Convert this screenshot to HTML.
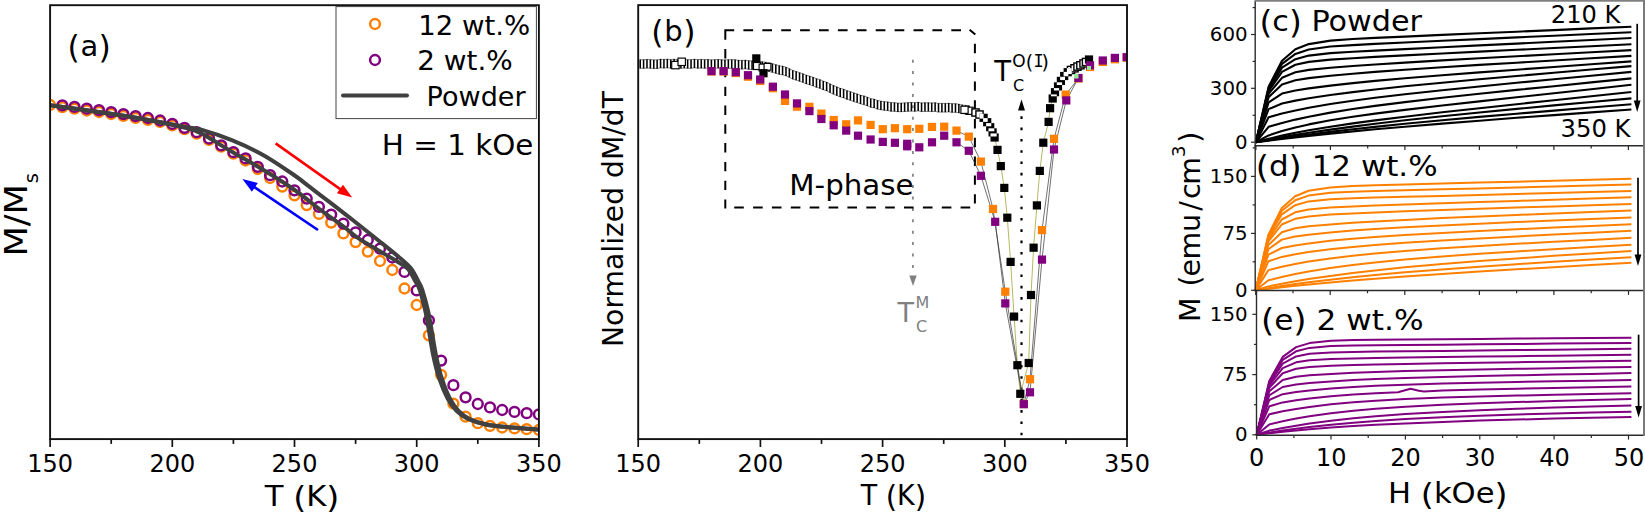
<!DOCTYPE html>
<html><head><meta charset="utf-8"><title>Figure</title>
<style>
html,body{margin:0;padding:0;background:#fff;}
svg{display:block;font-family:"DejaVu Sans", "Liberation Sans", sans-serif;}
</style></head><body>
<svg width="1645" height="513" viewBox="0 0 1645 513">
<rect width="1645" height="513" fill="#fff"/>
<g id="panel-a">
<clipPath id="clipA"><rect x="50.1" y="5.2" width="488.79999999999995" height="433.90000000000003"/></clipPath>
<g clip-path="url(#clipA)">
<circle cx="50.1" cy="105" r="4.9" fill="none" stroke="#ff8000" stroke-width="2.5"/>
<circle cx="62.3" cy="107.1" r="4.9" fill="none" stroke="#ff8000" stroke-width="2.5"/>
<circle cx="74.5" cy="108.7" r="4.9" fill="none" stroke="#ff8000" stroke-width="2.5"/>
<circle cx="86.8" cy="110.5" r="4.9" fill="none" stroke="#ff8000" stroke-width="2.5"/>
<circle cx="99.0" cy="112.0" r="4.9" fill="none" stroke="#ff8000" stroke-width="2.5"/>
<circle cx="111.2" cy="114.0" r="4.9" fill="none" stroke="#ff8000" stroke-width="2.5"/>
<circle cx="123.4" cy="115.9" r="4.9" fill="none" stroke="#ff8000" stroke-width="2.5"/>
<circle cx="135.6" cy="117.9" r="4.9" fill="none" stroke="#ff8000" stroke-width="2.5"/>
<circle cx="147.9" cy="119.8" r="4.9" fill="none" stroke="#ff8000" stroke-width="2.5"/>
<circle cx="160.1" cy="121.9" r="4.9" fill="none" stroke="#ff8000" stroke-width="2.5"/>
<circle cx="172.3" cy="125.3" r="4.9" fill="none" stroke="#ff8000" stroke-width="2.5"/>
<circle cx="184.5" cy="129.2" r="4.9" fill="none" stroke="#ff8000" stroke-width="2.5"/>
<circle cx="196.7" cy="133.6" r="4.9" fill="none" stroke="#ff8000" stroke-width="2.5"/>
<circle cx="209.0" cy="139.9" r="4.9" fill="none" stroke="#ff8000" stroke-width="2.5"/>
<circle cx="221.2" cy="146.7" r="4.9" fill="none" stroke="#ff8000" stroke-width="2.5"/>
<circle cx="233.4" cy="153.6" r="4.9" fill="none" stroke="#ff8000" stroke-width="2.5"/>
<circle cx="245.6" cy="160.5" r="4.9" fill="none" stroke="#ff8000" stroke-width="2.5"/>
<circle cx="257.8" cy="169" r="4.9" fill="none" stroke="#ff8000" stroke-width="2.5"/>
<circle cx="270.1" cy="178" r="4.9" fill="none" stroke="#ff8000" stroke-width="2.5"/>
<circle cx="282.3" cy="186.6" r="4.9" fill="none" stroke="#ff8000" stroke-width="2.5"/>
<circle cx="294.5" cy="195.3" r="4.9" fill="none" stroke="#ff8000" stroke-width="2.5"/>
<circle cx="306.7" cy="205.1" r="4.9" fill="none" stroke="#ff8000" stroke-width="2.5"/>
<circle cx="318.9" cy="213.9" r="4.9" fill="none" stroke="#ff8000" stroke-width="2.5"/>
<circle cx="331.2" cy="222.6" r="4.9" fill="none" stroke="#ff8000" stroke-width="2.5"/>
<circle cx="343.4" cy="233.4" r="4.9" fill="none" stroke="#ff8000" stroke-width="2.5"/>
<circle cx="355.6" cy="242.1" r="4.9" fill="none" stroke="#ff8000" stroke-width="2.5"/>
<circle cx="367.8" cy="251.6" r="4.9" fill="none" stroke="#ff8000" stroke-width="2.5"/>
<circle cx="380.0" cy="261" r="4.9" fill="none" stroke="#ff8000" stroke-width="2.5"/>
<circle cx="392.3" cy="270" r="4.9" fill="none" stroke="#ff8000" stroke-width="2.5"/>
<circle cx="404.5" cy="288.5" r="4.9" fill="none" stroke="#ff8000" stroke-width="2.5"/>
<circle cx="416.7" cy="305" r="4.9" fill="none" stroke="#ff8000" stroke-width="2.5"/>
<circle cx="428.9" cy="335.3" r="4.9" fill="none" stroke="#ff8000" stroke-width="2.5"/>
<circle cx="441.1" cy="374.8" r="4.9" fill="none" stroke="#ff8000" stroke-width="2.5"/>
<circle cx="453.4" cy="403.7" r="4.9" fill="none" stroke="#ff8000" stroke-width="2.5"/>
<circle cx="465.6" cy="416.7" r="4.9" fill="none" stroke="#ff8000" stroke-width="2.5"/>
<circle cx="477.8" cy="423.2" r="4.9" fill="none" stroke="#ff8000" stroke-width="2.5"/>
<circle cx="490.0" cy="425.9" r="4.9" fill="none" stroke="#ff8000" stroke-width="2.5"/>
<circle cx="502.2" cy="427.5" r="4.9" fill="none" stroke="#ff8000" stroke-width="2.5"/>
<circle cx="514.5" cy="428.4" r="4.9" fill="none" stroke="#ff8000" stroke-width="2.5"/>
<circle cx="526.7" cy="429.2" r="4.9" fill="none" stroke="#ff8000" stroke-width="2.5"/>
<circle cx="538.9" cy="430" r="4.9" fill="none" stroke="#ff8000" stroke-width="2.5"/>
<circle cx="62.3" cy="105.3" r="4.9" fill="none" stroke="#800080" stroke-width="2.5"/>
<circle cx="74.5" cy="106.9" r="4.9" fill="none" stroke="#800080" stroke-width="2.5"/>
<circle cx="86.8" cy="108.7" r="4.9" fill="none" stroke="#800080" stroke-width="2.5"/>
<circle cx="99.0" cy="110.2" r="4.9" fill="none" stroke="#800080" stroke-width="2.5"/>
<circle cx="111.2" cy="112.2" r="4.9" fill="none" stroke="#800080" stroke-width="2.5"/>
<circle cx="123.4" cy="114.1" r="4.9" fill="none" stroke="#800080" stroke-width="2.5"/>
<circle cx="135.6" cy="116.1" r="4.9" fill="none" stroke="#800080" stroke-width="2.5"/>
<circle cx="147.9" cy="118" r="4.9" fill="none" stroke="#800080" stroke-width="2.5"/>
<circle cx="160.1" cy="120.5" r="4.9" fill="none" stroke="#800080" stroke-width="2.5"/>
<circle cx="172.3" cy="123.9" r="4.9" fill="none" stroke="#800080" stroke-width="2.5"/>
<circle cx="184.5" cy="127.8" r="4.9" fill="none" stroke="#800080" stroke-width="2.5"/>
<circle cx="196.7" cy="132.2" r="4.9" fill="none" stroke="#800080" stroke-width="2.5"/>
<circle cx="209.0" cy="138.5" r="4.9" fill="none" stroke="#800080" stroke-width="2.5"/>
<circle cx="221.2" cy="145.3" r="4.9" fill="none" stroke="#800080" stroke-width="2.5"/>
<circle cx="233.4" cy="152.2" r="4.9" fill="none" stroke="#800080" stroke-width="2.5"/>
<circle cx="245.6" cy="158.4" r="4.9" fill="none" stroke="#800080" stroke-width="2.5"/>
<circle cx="257.8" cy="166.8" r="4.9" fill="none" stroke="#800080" stroke-width="2.5"/>
<circle cx="270.1" cy="175.2" r="4.9" fill="none" stroke="#800080" stroke-width="2.5"/>
<circle cx="282.3" cy="181.5" r="4.9" fill="none" stroke="#800080" stroke-width="2.5"/>
<circle cx="294.5" cy="190.3" r="4.9" fill="none" stroke="#800080" stroke-width="2.5"/>
<circle cx="306.7" cy="198.6" r="4.9" fill="none" stroke="#800080" stroke-width="2.5"/>
<circle cx="318.9" cy="206.8" r="4.9" fill="none" stroke="#800080" stroke-width="2.5"/>
<circle cx="331.2" cy="214.6" r="4.9" fill="none" stroke="#800080" stroke-width="2.5"/>
<circle cx="343.4" cy="223.6" r="4.9" fill="none" stroke="#800080" stroke-width="2.5"/>
<circle cx="355.6" cy="232.4" r="4.9" fill="none" stroke="#800080" stroke-width="2.5"/>
<circle cx="367.8" cy="240" r="4.9" fill="none" stroke="#800080" stroke-width="2.5"/>
<circle cx="380.0" cy="248.7" r="4.9" fill="none" stroke="#800080" stroke-width="2.5"/>
<circle cx="392.3" cy="257.5" r="4.9" fill="none" stroke="#800080" stroke-width="2.5"/>
<circle cx="404.5" cy="271.9" r="4.9" fill="none" stroke="#800080" stroke-width="2.5"/>
<circle cx="416.7" cy="290.4" r="4.9" fill="none" stroke="#800080" stroke-width="2.5"/>
<circle cx="428.9" cy="320.3" r="4.9" fill="none" stroke="#800080" stroke-width="2.5"/>
<circle cx="441.1" cy="360.6" r="4.9" fill="none" stroke="#800080" stroke-width="2.5"/>
<circle cx="453.4" cy="385.2" r="4.9" fill="none" stroke="#800080" stroke-width="2.5"/>
<circle cx="465.6" cy="397.3" r="4.9" fill="none" stroke="#800080" stroke-width="2.5"/>
<circle cx="477.8" cy="404" r="4.9" fill="none" stroke="#800080" stroke-width="2.5"/>
<circle cx="490.0" cy="407.4" r="4.9" fill="none" stroke="#800080" stroke-width="2.5"/>
<circle cx="502.2" cy="410" r="4.9" fill="none" stroke="#800080" stroke-width="2.5"/>
<circle cx="514.5" cy="411.9" r="4.9" fill="none" stroke="#800080" stroke-width="2.5"/>
<circle cx="526.7" cy="413.2" r="4.9" fill="none" stroke="#800080" stroke-width="2.5"/>
<circle cx="538.9" cy="414.4" r="4.9" fill="none" stroke="#800080" stroke-width="2.5"/>
<path d="M50,105.3 C57.5,106.3 80.4,109.4 95,111.5 C109.6,113.6 122.7,115.5 137.5,118 C152.3,120.5 173.4,124.6 184,126.6 C194.6,128.5 193.1,127.4 201.2,129.7 C209.3,132.0 222.0,136.2 232.4,140.4 C242.8,144.7 253.1,149.3 263.5,155.2 C273.9,161.0 286.9,170.2 294.7,175.5 C302.4,180.8 305.8,184.0 310,187.2 C314.2,190.4 314.2,190.4 320,194.8 C325.8,199.2 338.3,208.8 344.8,213.8 C351.3,218.8 353.4,220.6 359,225 C364.6,229.4 372.0,235.3 378.5,240.5 C385.0,245.7 392.6,251.7 398,256.3 C403.4,260.9 407.3,263.8 410.7,268 C414.1,272.2 416.6,277.9 418.5,281.6 C420.4,285.3 420.8,284.9 422.4,290 C424.0,295.1 426.8,305.2 428.3,311.9 C429.8,318.6 430.3,322.8 431.6,330 C432.9,337.2 434.3,347.2 436.0,355.3 C437.7,363.4 439.6,371.6 441.9,378.7 C444.2,385.8 446.9,392.8 449.7,398.2 C452.5,403.6 455.2,407.5 458.5,410.9 C461.8,414.3 464.5,416.4 469.2,418.7 C473.9,421.0 479.6,423.0 486.7,424.5 C493.8,426.0 503.4,426.7 512,427.5 C520.6,428.3 534.0,429.1 538.4,429.4" fill="none" stroke="#404040" stroke-width="4" stroke-linejoin="round"/>
<path d="M50,105.3 C57.5,106.3 80.4,109.4 95,111.5 C109.6,113.6 122.7,115.3 137.5,118 C152.3,120.7 173.4,125.0 184,127.6 C194.6,130.2 193.1,129.3 201.2,133.4 C209.3,137.5 222.0,146.0 232.4,152.1 C242.8,158.2 253.1,163.7 263.5,170 C273.9,176.3 285.3,183.4 294.7,190 C304.1,196.6 311.6,203.2 320,209.5 C328.4,215.8 338.3,222.6 344.8,227.5 C351.3,232.4 353.4,234.9 359,238.7 C364.6,242.5 372.0,246.5 378.5,250.4 C385.0,254.3 393.1,258.9 398,262 C402.9,265.1 405.1,265.7 408.0,269 C410.9,272.3 413.5,278.1 415.5,281.6 C417.5,285.1 418.1,284.9 419.8,290 C421.5,295.1 424.0,305.2 425.5,311.9 C427.0,318.6 427.5,322.8 428.8,330 C430.1,337.2 431.4,347.2 433.2,355.3 C434.9,363.4 436.9,371.6 439.3,378.7 C441.7,385.8 444.6,392.8 447.5,398.2 C450.4,403.6 453.2,407.5 456.5,410.9 C459.8,414.3 462.7,416.4 467.5,418.7 C472.3,421.0 478.1,423.0 485.5,424.5 C492.9,426.0 503.2,426.7 512,427.5 C520.8,428.3 534.0,429.1 538.4,429.4" fill="none" stroke="#404040" stroke-width="4" stroke-linejoin="round"/>
</g>
<line x1="275.6" y1="143.4" x2="341.6" y2="190.1" stroke="#ff0000" stroke-width="2.6"/>
<polygon points="352.2,197.6 336.9,193.2 343.0,184.7" fill="#ff0000"/>
<line x1="318.0" y1="230.0" x2="253.2" y2="186.3" stroke="#0000ff" stroke-width="2.6"/>
<polygon points="242.4,179.0 257.8,183.0 251.9,191.7" fill="#0000ff"/>
<rect x="50.1" y="5.2" width="488.79999999999995" height="433.90000000000003" fill="none" stroke="#111" stroke-width="1.9"/>
<line x1="50.1" y1="439.1" x2="50.1" y2="447.0" stroke="#111" stroke-width="1.7"/>
<line x1="111.2" y1="439.1" x2="111.2" y2="443.90000000000003" stroke="#111" stroke-width="1.7"/>
<line x1="172.3" y1="439.1" x2="172.3" y2="447.0" stroke="#111" stroke-width="1.7"/>
<line x1="233.4" y1="439.1" x2="233.4" y2="443.90000000000003" stroke="#111" stroke-width="1.7"/>
<line x1="294.5" y1="439.1" x2="294.5" y2="447.0" stroke="#111" stroke-width="1.7"/>
<line x1="355.6" y1="439.1" x2="355.6" y2="443.90000000000003" stroke="#111" stroke-width="1.7"/>
<line x1="416.7" y1="439.1" x2="416.7" y2="447.0" stroke="#111" stroke-width="1.7"/>
<line x1="477.8" y1="439.1" x2="477.8" y2="443.90000000000003" stroke="#111" stroke-width="1.7"/>
<line x1="538.9" y1="439.1" x2="538.9" y2="447.0" stroke="#111" stroke-width="1.7"/>
<text x="50.1" y="471.8" font-size="24" text-anchor="middle" fill="#000" >150</text>
<text x="172.3" y="471.8" font-size="24" text-anchor="middle" fill="#000" >200</text>
<text x="294.5" y="471.8" font-size="24" text-anchor="middle" fill="#000" >250</text>
<text x="416.7" y="471.8" font-size="24" text-anchor="middle" fill="#000" >300</text>
<text x="538.9" y="471.8" font-size="24" text-anchor="middle" fill="#000" >350</text>
<text x="264.7" y="506.3" font-size="28" text-anchor="start" fill="#000" textLength="74.7" lengthAdjust="spacingAndGlyphs">T <tspan font-size="30.5" dy="1.82">(</tspan><tspan dy="-1.82">K</tspan><tspan font-size="30.5" dy="1.82">)</tspan></text>
<text transform="translate(26.5,256.6) rotate(-90)" font-size="31.5" fill="#000" textLength="72.5" lengthAdjust="spacingAndGlyphs">M/M</text>
<text transform="translate(37.8,183.2) rotate(-90)" font-size="19.5" fill="#000">s</text>
<text x="67.6" y="58.2" font-size="31.5" text-anchor="start" fill="#000" >(</text>
<text x="80.4" y="56.3" font-size="29" text-anchor="start" fill="#000" >a</text>
<text x="98.55" y="58.2" font-size="31.5" text-anchor="start" fill="#000" >)</text>
<rect x="336" y="6.6" width="200.4" height="112" fill="#fff" stroke="#444" stroke-width="1"/>
<circle cx="375" cy="24" r="4.9" fill="none" stroke="#ff8000" stroke-width="2.5"/>
<circle cx="375" cy="60" r="4.9" fill="none" stroke="#800080" stroke-width="2.5"/>
<line x1="343" y1="95.6" x2="407" y2="95.6" stroke="#404040" stroke-width="4" stroke-linecap="round"/>
<text x="418.2" y="34.8" font-size="27" text-anchor="start" fill="#000" textLength="112" lengthAdjust="spacingAndGlyphs" >12 wt.%</text>
<text x="417.2" y="69.8" font-size="27" text-anchor="start" fill="#000" textLength="95.5" lengthAdjust="spacingAndGlyphs" >2 wt.%</text>
<text x="426.6" y="105.9" font-size="27" text-anchor="start" fill="#000" textLength="99" lengthAdjust="spacingAndGlyphs" >Powder</text>
<text x="381.8" y="154.7" font-size="28" text-anchor="start" fill="#000" textLength="151.6" lengthAdjust="spacingAndGlyphs" >H = 1 kOe</text>
</g>
<g id="panel-b">
<clipPath id="clipB"><rect x="638.2" y="5.1" width="488.79999999999995" height="434.0"/></clipPath>
<line x1="912.9" y1="59.7" x2="912.9" y2="276" stroke="#808080" stroke-width="1.7" stroke-dasharray="3 8.4"/>
<polygon points="913,286 909.3,275.5 916.7,275.5" fill="#808080"/>
<line x1="1021.5" y1="105" x2="1021.5" y2="436" stroke="#000" stroke-width="2.2" stroke-dasharray="2.6 8.7"/>
<polygon points="1021.5,99.5 1018,110.5 1025,110.5" fill="#000"/>
<path d="M724.3,30.3L734.2,30.3 M743.4,30.3L753.1,30.3 M762.3,30.3L772.0,30.3 M781.2,30.3L790.9,30.3 M800.1,30.3L809.8,30.3 M819.0,30.3L828.7,30.3 M837.9,30.3L847.6,30.3 M856.8,30.3L866.5,30.3 M875.7,30.3L885.4,30.3 M894.6,30.3L904.3,30.3 M913.5,30.3L923.2,30.3 M932.4,30.3L942.1,30.3 M951.3,30.3L961.0,30.3 M969.6,29.8L975.3,34.6 M974.9,43.8L974.9,53.2 M974.9,62.6L974.9,72.0 M974.9,81.4L974.9,90.8 M974.9,100.2L974.9,109.6 M974.9,119.0L974.9,128.4 M974.9,137.8L974.9,147.2 M974.9,156.6L974.9,166.0 M974.9,175.4L974.9,184.8 M974.9,194.2L974.9,203.6 M734.2,207.6L743.8,207.6 M753.1,207.6L762.7,207.6 M771.9,207.6L781.5,207.6 M790.8,207.6L800.4,207.6 M809.7,207.6L819.3,207.6 M828.6,207.6L838.2,207.6 M847.4,207.6L857.0,207.6 M866.3,207.6L875.9,207.6 M885.2,207.6L894.8,207.6 M904.0,207.6L913.6,207.6 M922.9,207.6L932.5,207.6 M941.8,207.6L951.4,207.6 M960.6,207.6L970.2,207.6 M725.3,30.3L725.3,39.7 M725.3,49.1L725.3,58.5 M725.3,67.9L725.3,77.3 M725.3,86.7L725.3,96.1 M725.3,105.5L725.3,114.9 M725.3,124.3L725.3,133.7 M725.3,143.1L725.3,152.5 M725.3,161.9L725.3,171.3 M725.3,180.7L725.3,190.1 M725.3,199.5L725.3,208.5" fill="none" stroke="#000" stroke-width="2"/>
<g clip-path="url(#clipB)">
<polyline points="994.6,137.5 997.5,149.9 1000.8,166.1 1004.3,187.9 1007.3,217.7 1010.6,261.9 1014.1,316.6 1017.4,365.2 1020.3,393.8 1028.7,363.0 1031.0,295.0 1033.6,247.7 1036.9,205.4 1039.8,170.9 1043.3,142.7 1048.6,121.9 1050.1,108.2 1052.7,98.5 1055.0,92.2 1058.0,86.4 1060.9,80.9 1064.2,76.0 1067.7,72.2" fill="none" stroke="#b0ae50" stroke-width="0.9"/>
<polyline points="956.5,130.6 968.8,136.6 980.9,161.6 993.0,209.0 1005.3,291.7 1023.8,404.0 1030.0,379.2 1042.0,230.1 1054.0,138.8 1065.7,94.6 1078.4,78.5" fill="none" stroke="#333" stroke-width="0.7"/>
<polyline points="956.5,142.3 968.8,150.8 980.9,175.8 995.2,221.8 1005.3,303.4 1023.8,404.2 1030.0,392.3 1042.0,259.6 1054.0,149.5 1066.3,100.4 1078.4,78.0" fill="none" stroke="#333" stroke-width="0.7"/>
<polyline points="640.2,59.6 643.6,59.8 647.0,59.4 650.4,59.6 653.8,59.9 657.1,59.9 660.5,59.3 663.9,59.4 667.3,59.2 670.7,59.6 674.1,59.2 677.5,59.6 680.9,59.7 684.3,59.4 687.7,59.7 691.0,59.7 694.4,59.2 697.8,59.6 701.2,59.4 704.6,59.6 708.0,59.5 711.4,59.9 714.8,59.7 718.2,59.5 721.6,59.8 724.9,60.0 728.3,59.7 731.7,59.7 735.1,59.8 738.5,60.3 741.9,60.4 745.3,60.2 748.7,60.7 752.1,61.0 755.5,60.9 758.8,61.1 762.2,61.8 765.6,62.2 769.0,62.9 772.4,63.7 775.8,64.7 779.2,65.6 782.6,66.3 786.0,67.2 789.4,68.7 792.7,70.4 796.1,71.5 799.5,72.6 802.9,73.8 806.3,75.2 809.7,76.1 813.1,77.3 816.5,78.7 819.9,79.6 823.3,81.1 826.6,82.3 830.0,84.0 833.4,85.5 836.8,86.9 840.2,88.3 843.6,89.2 847.0,90.7 850.4,91.6 853.8,93.0 857.2,94.0 860.5,95.3 863.9,96.0 867.3,97.2 870.7,98.7 874.1,99.1 877.5,100.5 880.9,101.1 884.3,101.6 887.7,102.0 891.1,102.6 894.4,102.7 897.8,103.1 901.2,103.1 904.6,102.9 908.0,102.6 911.4,102.5 914.8,102.7 918.2,102.3 921.6,103.0 925.0,102.8 928.3,102.8 931.7,103.0 935.1,102.8 938.5,103.4 941.9,103.4 945.3,103.4 948.7,103.3 952.1,103.7 955.5,103.7 958.9,104.2 962.2,105.0 965.6,105.4 969.0,105.8" fill="none" stroke="#8a8a8a" stroke-width="1"/>
<polyline points="640.2,68.2 643.6,68.4 647.0,68.0 650.4,68.2 653.8,68.5 657.1,68.5 660.5,67.9 663.9,68.0 667.3,67.8 670.7,68.2 674.1,67.8 677.5,68.2 680.9,68.3 684.3,68.0 687.7,68.3 691.0,68.3 694.4,67.8 697.8,68.2 701.2,68.0 704.6,68.2 708.0,68.1 711.4,68.5 714.8,68.3 718.2,68.1 721.6,68.4 724.9,68.6 728.3,68.3 731.7,68.3 735.1,68.4 738.5,68.9 741.9,69.0 745.3,68.8 748.7,69.3 752.1,69.6 755.5,69.5 758.8,69.7 762.2,70.4 765.6,70.8 769.0,71.5 772.4,72.3 775.8,73.3 779.2,74.2 782.6,74.9 786.0,75.8 789.4,77.3 792.7,79.0 796.1,80.1 799.5,81.2 802.9,82.4 806.3,83.8 809.7,84.7 813.1,85.9 816.5,87.3 819.9,88.2 823.3,89.7 826.6,90.9 830.0,92.6 833.4,94.1 836.8,95.5 840.2,96.9 843.6,97.8 847.0,99.3 850.4,100.2 853.8,101.6 857.2,102.6 860.5,103.9 863.9,104.6 867.3,105.8 870.7,107.3 874.1,107.7 877.5,109.1 880.9,109.7 884.3,110.2 887.7,110.6 891.1,111.2 894.4,111.3 897.8,111.7 901.2,111.7 904.6,111.5 908.0,111.2 911.4,111.1 914.8,111.3 918.2,110.9 921.6,111.6 925.0,111.4 928.3,111.4 931.7,111.6 935.1,111.4 938.5,112.0 941.9,112.0 945.3,112.0 948.7,111.9 952.1,112.3 955.5,112.3 958.9,112.8 962.2,113.6 965.6,114.0 969.0,114.4" fill="none" stroke="#8a8a8a" stroke-width="1"/>
<path d="M640.20,59.4V68.4 M643.59,59.6V68.6 M646.98,59.2V68.2 M650.37,59.4V68.4 M653.76,59.7V68.7 M657.15,59.7V68.7 M660.54,59.1V68.1 M663.93,59.2V68.2 M667.32,59.0V68.0 M670.71,59.4V68.4 M674.10,59.0V68.0 M677.49,59.4V68.4 M680.88,59.5V68.5 M684.27,59.2V68.2 M687.66,59.5V68.5 M691.05,59.5V68.5 M694.44,59.0V68.0 M697.83,59.4V68.4 M701.22,59.2V68.2 M704.61,59.4V68.4 M708.00,59.3V68.3 M711.39,59.7V68.7 M714.78,59.5V68.5 M718.17,59.3V68.3 M721.56,59.6V68.6 M724.95,59.8V68.8 M728.34,59.5V68.5 M731.73,59.5V68.5 M735.12,59.6V68.6 M738.51,60.1V69.1 M741.90,60.2V69.2 M745.29,60.0V69.0 M748.68,60.5V69.5 M752.07,60.8V69.8 M755.46,60.7V69.7 M758.85,60.9V69.9 M762.24,61.6V70.6 M765.63,62.0V71.0 M769.02,62.7V71.7 M772.41,63.5V72.5 M775.80,64.5V73.5 M779.19,65.4V74.4 M782.58,66.1V75.1 M785.97,67.0V76.0 M789.36,68.5V77.5 M792.75,70.2V79.2 M796.14,71.3V80.3 M799.53,72.4V81.4 M802.92,73.6V82.6 M806.31,75.0V84.0 M809.70,75.9V84.9 M813.09,77.1V86.1 M816.48,78.5V87.5 M819.87,79.4V88.4 M823.26,80.9V89.9 M826.65,82.1V91.1 M830.04,83.8V92.8 M833.43,85.3V94.3 M836.82,86.7V95.7 M840.21,88.1V97.1 M843.60,89.0V98.0 M846.99,90.5V99.5 M850.38,91.4V100.4 M853.77,92.8V101.8 M857.16,93.8V102.8 M860.55,95.1V104.1 M863.94,95.8V104.8 M867.33,97.0V106.0 M870.72,98.5V107.5 M874.11,98.9V107.9 M877.50,100.3V109.3 M880.89,100.9V109.9 M884.28,101.4V110.4 M887.67,101.8V110.8 M891.06,102.4V111.4 M894.45,102.5V111.5 M897.84,102.9V111.9 M901.23,102.9V111.9 M904.62,102.7V111.7 M908.01,102.4V111.4 M911.40,102.3V111.3 M914.79,102.5V111.5 M918.18,102.1V111.1 M921.57,102.8V111.8 M924.96,102.6V111.6 M928.35,102.6V111.6 M931.74,102.8V111.8 M935.13,102.6V111.6 M938.52,103.2V112.2 M941.91,103.2V112.2 M945.30,103.2V112.2 M948.69,103.1V112.1 M952.08,103.5V112.5 M955.47,103.5V112.5 M958.86,104.0V113.0 M962.25,104.8V113.8 M965.64,105.2V114.2 M969.03,105.6V114.6" fill="none" stroke="#000" stroke-width="1.55"/>
<rect x="671.7" y="61.4" width="7.4" height="7.4" fill="#fff" stroke="#000" stroke-width="1.15"/>
<rect x="678.0" y="58.1" width="7.4" height="7.4" fill="#fff" stroke="#000" stroke-width="1.15"/>
<rect x="753.5" y="62.5" width="7.0" height="7.0" fill="#fff" stroke="#000" stroke-width="1.15"/>
<rect x="759.1" y="64.1" width="6.8" height="6.8" fill="#fff" stroke="#000" stroke-width="1.15"/>
<rect x="764.1" y="63.4" width="6.8" height="6.8" fill="#fff" stroke="#000" stroke-width="1.15"/>
<rect x="965.9" y="107.2" width="7.2" height="7.2" fill="#fff" stroke="#000" stroke-width="1.15"/>
<rect x="960.9" y="106.2" width="7.2" height="7.2" fill="#fff" stroke="#000" stroke-width="1.15"/>
<rect x="971.9" y="108.9" width="7.2" height="7.2" fill="#fff" stroke="#000" stroke-width="1.4"/>
<rect x="975.9" y="110.9" width="7.2" height="7.2" fill="#fff" stroke="#000" stroke-width="1.4"/>
<rect x="1067.4" y="66.4" width="7.2" height="7.2" fill="#fff" stroke="#000" stroke-width="1.4"/>
<rect x="1070.9" y="64.7" width="7.2" height="7.2" fill="#fff" stroke="#000" stroke-width="1.4"/>
<rect x="1073.9" y="63.0" width="7.2" height="7.2" fill="#fff" stroke="#000" stroke-width="1.4"/>
<rect x="1076.8" y="61.7" width="7.2" height="7.2" fill="#fff" stroke="#000" stroke-width="1.4"/>
<rect x="1079.9" y="59.9" width="7.2" height="7.2" fill="#fff" stroke="#000" stroke-width="1.4"/>
<rect x="1082.4" y="58.4" width="7.2" height="7.2" fill="#fff" stroke="#000" stroke-width="1.4"/>
<rect x="752.2" y="54.3" width="8.2" height="8.2" fill="#000"/>
<rect x="759.4" y="69.1" width="8.2" height="8.2" fill="#000"/>
<rect x="979.5" y="113.7" width="8.2" height="8.2" fill="#000"/>
<rect x="983.1" y="118.1" width="8.2" height="8.2" fill="#000"/>
<rect x="986.1" y="123.1" width="8.2" height="8.2" fill="#000"/>
<rect x="988.5" y="128.3" width="8.2" height="8.2" fill="#000"/>
<rect x="990.5" y="133.4" width="8.2" height="8.2" fill="#000"/>
<rect x="993.4" y="145.8" width="8.2" height="8.2" fill="#000"/>
<rect x="996.7" y="162.0" width="8.2" height="8.2" fill="#000"/>
<rect x="1000.2" y="183.8" width="8.2" height="8.2" fill="#000"/>
<rect x="1003.2" y="213.6" width="8.2" height="8.2" fill="#000"/>
<rect x="1006.5" y="257.8" width="8.2" height="8.2" fill="#000"/>
<rect x="1010.0" y="312.5" width="8.2" height="8.2" fill="#000"/>
<rect x="1013.3" y="361.1" width="8.2" height="8.2" fill="#000"/>
<rect x="1016.2" y="389.7" width="8.2" height="8.2" fill="#000"/>
<rect x="1024.6" y="358.9" width="8.2" height="8.2" fill="#000"/>
<rect x="1026.9" y="290.9" width="8.2" height="8.2" fill="#000"/>
<rect x="1029.5" y="243.6" width="8.2" height="8.2" fill="#000"/>
<rect x="1032.8" y="201.3" width="8.2" height="8.2" fill="#000"/>
<rect x="1035.7" y="166.8" width="8.2" height="8.2" fill="#000"/>
<rect x="1039.2" y="138.6" width="8.2" height="8.2" fill="#000"/>
<rect x="1044.5" y="117.8" width="8.2" height="8.2" fill="#000"/>
<rect x="1046.0" y="104.1" width="8.2" height="8.2" fill="#000"/>
<rect x="1048.6" y="94.4" width="8.2" height="8.2" fill="#000"/>
<rect x="1050.9" y="88.1" width="8.2" height="8.2" fill="#000"/>
<rect x="1053.9" y="82.3" width="8.2" height="8.2" fill="#000"/>
<rect x="1056.8" y="76.8" width="8.2" height="8.2" fill="#000"/>
<rect x="1060.1" y="71.9" width="8.2" height="8.2" fill="#000"/>
<rect x="1063.6" y="68.1" width="8.2" height="8.2" fill="#000"/>
<rect x="1084.9" y="55.4" width="8.2" height="8.2" fill="#000"/>
<rect x="979.5" y="113.7" width="4.1" height="4.9" fill="#fff"/>
<rect x="983.1" y="118.1" width="4.6" height="3.8" fill="#fff"/>
<rect x="986.1" y="123.1" width="5.2" height="3.2" fill="#fff"/>
<rect x="988.5" y="128.3" width="5.8" height="3.0" fill="#fff"/>
<rect x="990.5" y="133.4" width="6.2" height="3.1" fill="#fff"/>
<rect x="1050.9" y="94.4" width="5.9" height="1.9" fill="#fff"/>
<rect x="1053.9" y="88.1" width="5.2" height="2.4" fill="#fff"/>
<rect x="1056.8" y="82.3" width="5.3" height="2.7" fill="#fff"/>
<rect x="1060.1" y="76.8" width="4.9" height="3.3" fill="#fff"/>
<rect x="1063.6" y="71.9" width="4.7" height="4.4" fill="#fff"/>
<rect x="1066.9" y="68.1" width="4.9" height="6.0" fill="#fff"/>
<rect x="707.4" y="67.4" width="8.2" height="8.2" fill="#ff8000"/>
<rect x="719.5" y="67.4" width="8.2" height="8.2" fill="#ff8000"/>
<rect x="731.7" y="68.9" width="8.2" height="8.2" fill="#ff8000"/>
<rect x="743.9" y="72.6" width="8.2" height="8.2" fill="#ff8000"/>
<rect x="756.1" y="76.9" width="8.2" height="8.2" fill="#ff8000"/>
<rect x="768.8" y="84.1" width="8.2" height="8.2" fill="#ff8000"/>
<rect x="780.9" y="96.8" width="8.2" height="8.2" fill="#ff8000"/>
<rect x="792.9" y="102.6" width="8.2" height="8.2" fill="#ff8000"/>
<rect x="805.3" y="102.7" width="8.2" height="8.2" fill="#ff8000"/>
<rect x="817.3" y="109.5" width="8.2" height="8.2" fill="#ff8000"/>
<rect x="829.6" y="115.9" width="8.2" height="8.2" fill="#ff8000"/>
<rect x="842.1" y="120.2" width="8.2" height="8.2" fill="#ff8000"/>
<rect x="853.9" y="116.3" width="8.2" height="8.2" fill="#ff8000"/>
<rect x="866.5" y="120.8" width="8.2" height="8.2" fill="#ff8000"/>
<rect x="878.7" y="125.1" width="8.2" height="8.2" fill="#ff8000"/>
<rect x="890.8" y="124.1" width="8.2" height="8.2" fill="#ff8000"/>
<rect x="903.1" y="125.1" width="8.2" height="8.2" fill="#ff8000"/>
<rect x="915.2" y="124.7" width="8.2" height="8.2" fill="#ff8000"/>
<rect x="927.9" y="122.8" width="8.2" height="8.2" fill="#ff8000"/>
<rect x="940.1" y="122.6" width="8.2" height="8.2" fill="#ff8000"/>
<rect x="952.4" y="126.5" width="8.2" height="8.2" fill="#ff8000"/>
<rect x="964.7" y="132.5" width="8.2" height="8.2" fill="#ff8000"/>
<rect x="976.8" y="157.5" width="8.2" height="8.2" fill="#ff8000"/>
<rect x="988.9" y="204.9" width="8.2" height="8.2" fill="#ff8000"/>
<rect x="1001.2" y="287.6" width="8.2" height="8.2" fill="#ff8000"/>
<rect x="1019.7" y="399.9" width="8.2" height="8.2" fill="#ff8000"/>
<rect x="1025.9" y="375.1" width="8.2" height="8.2" fill="#ff8000"/>
<rect x="1037.9" y="226.0" width="8.2" height="8.2" fill="#ff8000"/>
<rect x="1049.9" y="134.7" width="8.2" height="8.2" fill="#ff8000"/>
<rect x="1061.6" y="90.5" width="8.2" height="8.2" fill="#ff8000"/>
<rect x="1074.3" y="74.4" width="8.2" height="8.2" fill="#ff8000"/>
<rect x="1085.9" y="62.9" width="8.2" height="8.2" fill="#ff8000"/>
<rect x="1098.7" y="57.9" width="8.2" height="8.2" fill="#ff8000"/>
<rect x="1110.8" y="55.2" width="8.2" height="8.2" fill="#ff8000"/>
<rect x="1122.6" y="53.4" width="8.2" height="8.2" fill="#ff8000"/>
<rect x="707.4" y="67.0" width="8.2" height="8.2" fill="#800080"/>
<rect x="719.5" y="67.0" width="8.2" height="8.2" fill="#800080"/>
<rect x="731.7" y="68.1" width="8.2" height="8.2" fill="#800080"/>
<rect x="743.9" y="71.1" width="8.2" height="8.2" fill="#800080"/>
<rect x="756.1" y="75.4" width="8.2" height="8.2" fill="#800080"/>
<rect x="768.8" y="82.6" width="8.2" height="8.2" fill="#800080"/>
<rect x="780.9" y="90.4" width="8.2" height="8.2" fill="#800080"/>
<rect x="792.9" y="99.3" width="8.2" height="8.2" fill="#800080"/>
<rect x="805.3" y="107.0" width="8.2" height="8.2" fill="#800080"/>
<rect x="817.3" y="114.9" width="8.2" height="8.2" fill="#800080"/>
<rect x="829.6" y="121.2" width="8.2" height="8.2" fill="#800080"/>
<rect x="842.1" y="126.5" width="8.2" height="8.2" fill="#800080"/>
<rect x="853.9" y="131.6" width="8.2" height="8.2" fill="#800080"/>
<rect x="866.5" y="135.4" width="8.2" height="8.2" fill="#800080"/>
<rect x="878.7" y="137.8" width="8.2" height="8.2" fill="#800080"/>
<rect x="890.8" y="138.7" width="8.2" height="8.2" fill="#800080"/>
<rect x="903.1" y="139.7" width="8.2" height="8.2" fill="#800080"/>
<rect x="903.1" y="142.2" width="8.2" height="8.2" fill="#800080"/>
<rect x="915.2" y="143.2" width="8.2" height="8.2" fill="#800080"/>
<rect x="927.9" y="138.2" width="8.2" height="8.2" fill="#800080"/>
<rect x="940.1" y="131.6" width="8.2" height="8.2" fill="#800080"/>
<rect x="952.4" y="138.2" width="8.2" height="8.2" fill="#800080"/>
<rect x="964.7" y="146.7" width="8.2" height="8.2" fill="#800080"/>
<rect x="976.8" y="171.7" width="8.2" height="8.2" fill="#800080"/>
<rect x="991.1" y="217.7" width="8.2" height="8.2" fill="#800080"/>
<rect x="1001.2" y="299.3" width="8.2" height="8.2" fill="#800080"/>
<rect x="1019.7" y="400.1" width="8.2" height="8.2" fill="#800080"/>
<rect x="1025.9" y="388.2" width="8.2" height="8.2" fill="#800080"/>
<rect x="1037.9" y="255.5" width="8.2" height="8.2" fill="#800080"/>
<rect x="1049.9" y="145.4" width="8.2" height="8.2" fill="#800080"/>
<rect x="1062.2" y="96.3" width="8.2" height="8.2" fill="#800080"/>
<rect x="1074.3" y="73.9" width="8.2" height="8.2" fill="#800080"/>
<rect x="1085.9" y="61.2" width="8.2" height="8.2" fill="#800080"/>
<rect x="1098.7" y="56.4" width="8.2" height="8.2" fill="#800080"/>
<rect x="1110.8" y="53.8" width="8.2" height="8.2" fill="#800080"/>
<rect x="1122.6" y="53.1" width="8.2" height="8.2" fill="#800080"/>
<rect x="1074" y="74" width="4.5" height="4.5" fill="#90ee90"/>
<rect x="1087" y="66" width="4" height="4" fill="#90ee90"/>
</g>
<rect x="638.2" y="5.1" width="488.79999999999995" height="434.0" fill="none" stroke="#111" stroke-width="1.9"/>
<line x1="638.2" y1="439.1" x2="638.2" y2="447.0" stroke="#111" stroke-width="1.7"/>
<line x1="699.3" y1="439.1" x2="699.3" y2="443.90000000000003" stroke="#111" stroke-width="1.7"/>
<line x1="760.4" y1="439.1" x2="760.4" y2="447.0" stroke="#111" stroke-width="1.7"/>
<line x1="821.5" y1="439.1" x2="821.5" y2="443.90000000000003" stroke="#111" stroke-width="1.7"/>
<line x1="882.6" y1="439.1" x2="882.6" y2="447.0" stroke="#111" stroke-width="1.7"/>
<line x1="943.7" y1="439.1" x2="943.7" y2="443.90000000000003" stroke="#111" stroke-width="1.7"/>
<line x1="1004.8" y1="439.1" x2="1004.8" y2="447.0" stroke="#111" stroke-width="1.7"/>
<line x1="1065.9" y1="439.1" x2="1065.9" y2="443.90000000000003" stroke="#111" stroke-width="1.7"/>
<line x1="1127.0" y1="439.1" x2="1127.0" y2="447.0" stroke="#111" stroke-width="1.7"/>
<text x="638.2" y="471.8" font-size="24" text-anchor="middle" fill="#000" >150</text>
<text x="760.4" y="471.8" font-size="24" text-anchor="middle" fill="#000" >200</text>
<text x="882.6" y="471.8" font-size="24" text-anchor="middle" fill="#000" >250</text>
<text x="1004.8" y="471.8" font-size="24" text-anchor="middle" fill="#000" >300</text>
<text x="1127.0" y="471.8" font-size="24" text-anchor="middle" fill="#000" >350</text>
<text x="860.7" y="505.4" font-size="28" text-anchor="start" fill="#000" textLength="65.5" lengthAdjust="spacingAndGlyphs">T <tspan font-size="30.5" dy="1.82">(</tspan><tspan dy="-1.82">K</tspan><tspan font-size="30.5" dy="1.82">)</tspan></text>
<text transform="translate(623.4,347) rotate(-90)" font-size="28" fill="#000" textLength="256" lengthAdjust="spacingAndGlyphs">Normalized dM/dT</text>
<text x="651.3" y="42.7" font-size="31.5" text-anchor="start" fill="#000" >(</text>
<text x="664.3" y="40.8" font-size="29" text-anchor="start" fill="#000" >b</text>
<text x="683.2" y="42.7" font-size="31.5" text-anchor="start" fill="#000" >)</text>
<text x="789.3" y="194.8" font-size="28" text-anchor="start" fill="#000" textLength="124.2" lengthAdjust="spacingAndGlyphs" >M-phase</text>
<text x="897.5" y="321.5" font-size="27" fill="#808080">T<tspan font-size="16" dx="1.5" dy="-13.6">M</tspan></text>
<text x="916" y="332" font-size="16" fill="#808080">C</text>
<text x="994.3" y="80.5" font-size="27.5" fill="#000">T</text>
<text x="1012.2" y="67.4" font-size="17" fill="#000">O</text>
<text x="1025.8" y="68.8" font-size="19" fill="#000">(</text>
<text x="1033.6" y="67.4" font-size="17" fill="#000" font-family="'DejaVu Sans Mono', 'Liberation Mono', monospace">I</text>
<text x="1041.6" y="68.8" font-size="19" fill="#000">)</text>
<text x="1013" y="90.7" font-size="16" fill="#000">C</text>
</g>
<g id="panel-cde">
<polyline points="1255.9,142.2 1268.6,86.8 1282.0,60.8 1295.4,49.3 1308.8,44.1 1330.4,40.6 1352.8,39.0 1375.1,37.9 1404.9,36.6 1442.2,34.9 1479.4,33.3 1516.7,31.7 1553.9,30.1 1591.2,28.4 1631.4,26.7" fill="none" stroke="#000" stroke-width="2.1" stroke-linejoin="round"/>
<polyline points="1255.9,142.2 1268.6,88.0 1282.0,63.9 1295.4,53.9 1308.8,49.5 1330.4,46.5 1352.8,45.1 1375.1,43.9 1404.9,42.5 1442.2,40.8 1479.4,39.1 1516.7,37.4 1553.9,35.7 1591.2,34.0 1631.4,32.2" fill="none" stroke="#000" stroke-width="2.1" stroke-linejoin="round"/>
<polyline points="1255.9,142.2 1268.6,89.6 1282.0,67.7 1295.4,59.2 1308.8,55.6 1330.4,53.1 1352.8,51.7 1375.1,50.6 1404.9,49.1 1442.2,47.3 1479.4,45.4 1516.7,43.6 1553.9,41.8 1591.2,40.0 1631.4,38.0" fill="none" stroke="#000" stroke-width="2.1" stroke-linejoin="round"/>
<polyline points="1255.9,142.2 1268.6,91.3 1282.0,71.9 1295.4,64.8 1308.8,61.9 1330.4,59.6 1352.8,58.2 1375.1,56.9 1404.9,55.4 1442.2,53.5 1479.4,51.6 1516.7,49.8 1553.9,48.0 1591.2,46.2 1631.4,44.2" fill="none" stroke="#000" stroke-width="2.1" stroke-linejoin="round"/>
<polyline points="1255.9,142.2 1268.6,93.9 1282.0,77.8 1295.4,72.3 1308.8,69.9 1330.4,67.7 1352.8,66.0 1375.1,64.5 1404.9,62.6 1442.2,60.4 1479.4,58.3 1516.7,56.3 1553.9,54.3 1591.2,52.3 1631.4,50.1" fill="none" stroke="#000" stroke-width="2.1" stroke-linejoin="round"/>
<polyline points="1255.9,142.2 1268.6,97.2 1282.0,84.4 1295.4,80.2 1308.8,78.1 1330.4,75.7 1352.8,73.7 1375.1,71.9 1404.9,69.7 1442.2,67.3 1479.4,64.9 1516.7,62.7 1553.9,60.5 1591.2,58.3 1631.4,55.9" fill="none" stroke="#000" stroke-width="2.1" stroke-linejoin="round"/>
<polyline points="1255.9,142.2 1268.6,102.4 1282.0,93.6 1295.4,90.5 1308.8,88.4 1330.4,85.6 1352.8,83.1 1375.1,80.9 1404.9,78.3 1442.2,75.3 1479.4,72.4 1516.7,69.7 1553.9,67.0 1591.2,64.3 1631.4,61.4" fill="none" stroke="#000" stroke-width="2.1" stroke-linejoin="round"/>
<polyline points="1255.9,142.2 1268.6,109.1 1282.0,103.5 1295.4,100.6 1308.8,98.3 1330.4,95.0 1352.8,92.1 1375.1,89.5 1404.9,86.3 1442.2,82.7 1479.4,79.3 1516.7,76.0 1553.9,72.8 1591.2,69.5 1631.4,66.1" fill="none" stroke="#000" stroke-width="2.1" stroke-linejoin="round"/>
<polyline points="1255.9,142.2 1268.6,117.3 1282.0,113.4 1295.4,110.4 1308.8,107.7 1330.4,104.0 1352.8,100.7 1375.1,97.8 1404.9,94.3 1442.2,90.3 1479.4,86.5 1516.7,82.8 1553.9,79.3 1591.2,75.7 1631.4,71.9" fill="none" stroke="#000" stroke-width="2.1" stroke-linejoin="round"/>
<polyline points="1255.9,142.2 1268.6,126.8 1282.0,123.0 1295.4,119.6 1308.8,116.7 1330.4,112.6 1352.8,109.0 1375.1,105.9 1404.9,102.1 1442.2,97.8 1479.4,93.8 1516.7,89.9 1553.9,86.2 1591.2,82.4 1631.4,78.4" fill="none" stroke="#000" stroke-width="2.1" stroke-linejoin="round"/>
<polyline points="1255.9,142.2 1268.6,135.4 1282.0,131.1 1295.4,127.4 1308.8,124.4 1330.4,120.3 1352.8,116.7 1375.1,113.6 1404.9,109.9 1442.2,105.5 1479.4,101.4 1516.7,97.3 1553.9,93.2 1591.2,89.2 1631.4,84.8" fill="none" stroke="#000" stroke-width="2.1" stroke-linejoin="round"/>
<polyline points="1255.9,142.2 1268.6,138.8 1282.0,135.6 1295.4,132.8 1308.8,130.3 1330.4,126.7 1352.8,123.4 1375.1,120.4 1404.9,116.7 1442.2,112.3 1479.4,108.2 1516.7,104.2 1553.9,100.2 1591.2,96.2 1631.4,92.0" fill="none" stroke="#000" stroke-width="2.1" stroke-linejoin="round"/>
<polyline points="1255.9,142.2 1268.6,139.7 1282.0,137.2 1295.4,134.9 1308.8,132.8 1330.4,129.6 1352.8,126.6 1375.1,123.8 1404.9,120.3 1442.2,116.3 1479.4,112.5 1516.7,108.9 1553.9,105.4 1591.2,102.0 1631.4,98.4" fill="none" stroke="#000" stroke-width="2.1" stroke-linejoin="round"/>
<polyline points="1255.9,142.2 1268.6,140.2 1282.0,138.2 1295.4,136.4 1308.8,134.6 1330.4,131.9 1352.8,129.3 1375.1,126.9 1404.9,123.8 1442.2,120.3 1479.4,116.9 1516.7,113.7 1553.9,110.6 1591.2,107.5 1631.4,104.3" fill="none" stroke="#000" stroke-width="2.1" stroke-linejoin="round"/>
<polyline points="1255.9,142.2 1268.6,140.6 1282.0,138.9 1295.4,137.4 1308.8,135.9 1330.4,133.6 1352.8,131.4 1375.1,129.3 1404.9,126.7 1442.2,123.6 1479.4,120.7 1516.7,117.8 1553.9,115.1 1591.2,112.4 1631.4,109.5" fill="none" stroke="#000" stroke-width="2.1" stroke-linejoin="round"/>
<polyline points="1255.7,290.3 1268.4,234.6 1281.8,208.0 1295.2,196.2 1308.6,190.8 1330.2,187.4 1352.6,186.1 1375.0,185.3 1404.8,184.5 1442.1,183.6 1479.4,182.6 1516.6,181.7 1553.9,180.8 1591.2,179.8 1631.4,178.8" fill="none" stroke="#ff8000" stroke-width="2.0" stroke-linejoin="round"/>
<polyline points="1255.7,290.3 1268.4,235.7 1281.8,210.7 1295.2,200.2 1308.6,195.6 1330.2,192.8 1352.6,191.7 1375.0,191.0 1404.8,190.2 1442.1,189.3 1479.4,188.4 1516.6,187.4 1553.9,186.5 1591.2,185.6 1631.4,184.6" fill="none" stroke="#ff8000" stroke-width="2.0" stroke-linejoin="round"/>
<polyline points="1255.7,290.3 1268.4,237.1 1281.8,214.3 1295.2,205.2 1308.6,201.4 1330.2,199.2 1352.6,198.2 1375.0,197.6 1404.8,196.8 1442.1,195.9 1479.4,194.9 1516.6,194.0 1553.9,193.1 1591.2,192.1 1631.4,191.1" fill="none" stroke="#ff8000" stroke-width="2.0" stroke-linejoin="round"/>
<polyline points="1255.7,290.3 1268.4,239.2 1281.8,219.5 1295.2,212.3 1308.6,209.4 1330.2,207.5 1352.6,206.4 1375.0,205.5 1404.8,204.5 1442.1,203.2 1479.4,202.0 1516.6,200.9 1553.9,199.7 1591.2,198.5 1631.4,197.3" fill="none" stroke="#ff8000" stroke-width="2.0" stroke-linejoin="round"/>
<polyline points="1255.7,290.3 1268.4,241.3 1281.8,224.5 1295.2,218.8 1308.6,216.4 1330.2,214.6 1352.6,213.4 1375.0,212.4 1404.8,211.3 1442.1,209.9 1479.4,208.7 1516.6,207.6 1553.9,206.4 1591.2,205.3 1631.4,204.1" fill="none" stroke="#ff8000" stroke-width="2.0" stroke-linejoin="round"/>
<polyline points="1255.7,290.3 1268.4,245.1 1281.8,232.3 1295.2,228.2 1308.6,226.3 1330.2,224.4 1352.6,222.8 1375.0,221.4 1404.8,219.9 1442.1,218.1 1479.4,216.5 1516.6,215.0 1553.9,213.5 1591.2,212.1 1631.4,210.5" fill="none" stroke="#ff8000" stroke-width="2.0" stroke-linejoin="round"/>
<polyline points="1255.7,290.3 1268.4,249.2 1281.8,239.6 1295.2,236.5 1308.6,234.7 1330.2,232.5 1352.6,230.6 1375.0,229.1 1404.8,227.3 1442.1,225.5 1479.4,223.7 1516.6,222.1 1553.9,220.6 1591.2,219.0 1631.4,217.4" fill="none" stroke="#ff8000" stroke-width="2.0" stroke-linejoin="round"/>
<polyline points="1255.7,290.3 1268.4,254.6 1281.8,248.0 1295.2,245.4 1308.6,243.4 1330.2,240.8 1352.6,238.7 1375.0,237.0 1404.8,235.0 1442.1,232.9 1479.4,231.0 1516.6,229.3 1553.9,227.6 1591.2,226.0 1631.4,224.2" fill="none" stroke="#ff8000" stroke-width="2.0" stroke-linejoin="round"/>
<polyline points="1255.7,290.3 1268.4,261.3 1281.8,256.9 1295.2,254.3 1308.6,252.1 1330.2,249.3 1352.6,246.9 1375.0,245.0 1404.8,242.8 1442.1,240.4 1479.4,238.4 1516.6,236.4 1553.9,234.6 1591.2,232.7 1631.4,230.8" fill="none" stroke="#ff8000" stroke-width="2.0" stroke-linejoin="round"/>
<polyline points="1255.7,290.3 1268.4,270.1 1281.8,266.7 1295.2,264.0 1308.6,261.6 1330.2,258.4 1352.6,255.7 1375.0,253.5 1404.8,250.9 1442.1,248.3 1479.4,246.0 1516.6,243.8 1553.9,241.8 1591.2,239.9 1631.4,237.8" fill="none" stroke="#ff8000" stroke-width="2.0" stroke-linejoin="round"/>
<polyline points="1255.7,290.3 1268.4,280.3 1281.8,277.0 1295.2,274.0 1308.6,271.5 1330.2,268.0 1352.6,264.9 1375.0,262.4 1404.8,259.5 1442.1,256.5 1479.4,253.8 1516.6,251.4 1553.9,249.2 1591.2,247.0 1631.4,244.7" fill="none" stroke="#ff8000" stroke-width="2.0" stroke-linejoin="round"/>
<polyline points="1255.7,290.3 1268.4,286.4 1281.8,283.7 1295.2,281.3 1308.6,279.1 1330.2,275.9 1352.6,272.9 1375.0,270.4 1404.8,267.3 1442.1,264.0 1479.4,261.1 1516.6,258.4 1553.9,255.8 1591.2,253.4 1631.4,250.9" fill="none" stroke="#ff8000" stroke-width="2.0" stroke-linejoin="round"/>
<polyline points="1255.7,290.3 1268.4,288.2 1281.8,286.1 1295.2,284.1 1308.6,282.3 1330.2,279.7 1352.6,277.2 1375.0,275.0 1404.8,272.3 1442.1,269.4 1479.4,266.7 1516.6,264.2 1553.9,261.8 1591.2,259.6 1631.4,257.3" fill="none" stroke="#ff8000" stroke-width="2.0" stroke-linejoin="round"/>
<polyline points="1255.7,290.3 1268.4,288.8 1281.8,287.3 1295.2,285.8 1308.6,284.5 1330.2,282.5 1352.6,280.6 1375.0,278.8 1404.8,276.5 1442.1,274.0 1479.4,271.6 1516.6,269.3 1553.9,267.2 1591.2,265.0 1631.4,262.8" fill="none" stroke="#ff8000" stroke-width="2.0" stroke-linejoin="round"/>
<polyline points="1256.7,434.8 1269.3,380.9 1282.7,356.9 1296.1,347.1 1309.5,343.1 1331.0,340.8 1353.4,340.1 1375.7,339.8 1405.4,339.6 1442.6,339.3 1479.8,339.0 1516.9,338.6 1554.1,338.3 1591.3,338.0 1631.4,337.7" fill="none" stroke="#800080" stroke-width="2.0" stroke-linejoin="round"/>
<polyline points="1256.7,434.8 1269.3,382.1 1282.7,359.9 1296.1,351.3 1309.5,347.9 1331.0,346.1 1353.4,345.6 1375.7,345.3 1405.4,345.0 1442.6,344.7 1479.8,344.3 1516.9,344.0 1554.1,343.6 1591.3,343.3 1631.4,342.9" fill="none" stroke="#800080" stroke-width="2.0" stroke-linejoin="round"/>
<polyline points="1256.7,434.8 1269.3,383.6 1282.7,363.6 1296.1,356.4 1309.5,353.7 1331.0,352.4 1353.4,351.9 1375.7,351.6 1405.4,351.3 1442.6,350.9 1479.8,350.5 1516.9,350.1 1554.1,349.7 1591.3,349.2 1631.4,348.8" fill="none" stroke="#800080" stroke-width="2.0" stroke-linejoin="round"/>
<polyline points="1256.7,434.8 1269.3,385.5 1282.7,368.1 1296.1,362.3 1309.5,360.3 1331.0,359.1 1353.4,358.5 1375.7,358.1 1405.4,357.6 1442.6,357.1 1479.8,356.6 1516.9,356.2 1554.1,355.7 1591.3,355.3 1631.4,354.8" fill="none" stroke="#800080" stroke-width="2.0" stroke-linejoin="round"/>
<polyline points="1256.7,434.8 1269.3,387.8 1282.7,373.2 1296.1,368.7 1309.5,367.0 1331.0,365.8 1353.4,365.1 1375.7,364.5 1405.4,363.9 1442.6,363.2 1479.8,362.7 1516.9,362.2 1554.1,361.7 1591.3,361.2 1631.4,360.7" fill="none" stroke="#800080" stroke-width="2.0" stroke-linejoin="round"/>
<polyline points="1256.7,434.8 1269.3,391.3 1282.7,380.0 1296.1,376.7 1309.5,375.3 1331.0,373.9 1353.4,372.8 1375.7,372.0 1405.4,371.1 1442.6,370.3 1479.8,369.5 1516.9,368.8 1554.1,368.2 1591.3,367.6 1631.4,366.9" fill="none" stroke="#800080" stroke-width="2.0" stroke-linejoin="round"/>
<polyline points="1256.7,434.8 1269.3,395.3 1282.7,387.0 1296.1,384.5 1309.5,383.1 1331.0,381.4 1353.4,380.1 1375.7,379.1 1405.4,378.0 1442.6,377.0 1479.8,376.1 1516.9,375.3 1554.1,374.6 1591.3,373.9 1631.4,373.1" fill="none" stroke="#800080" stroke-width="2.0" stroke-linejoin="round"/>
<polyline points="1256.7,434.8 1269.3,400.0 1282.7,394.2 1296.1,392.0 1309.5,390.4 1331.0,388.5 1353.4,387.0 1375.7,385.8 1405.4,384.7 1442.6,383.6 1479.8,382.7 1516.9,382.0 1554.1,381.3 1591.3,380.7 1631.4,380.0" fill="none" stroke="#800080" stroke-width="2.0" stroke-linejoin="round"/>
<polyline points="1256.7,434.8 1269.3,406.3 1282.7,402.4 1296.1,400.2 1309.5,398.5 1331.0,396.3 1353.4,394.5 1375.7,393.2 1398.0,392.2 1403.2,390.8 1410.6,388.7 1418.8,390.8 1424.0,391.4 1442.6,390.6 1479.8,389.6 1516.9,388.7 1554.1,387.9 1591.3,387.2 1631.4,386.4" fill="none" stroke="#800080" stroke-width="2.0" stroke-linejoin="round"/>
<polyline points="1256.7,434.8 1269.3,414.3 1282.7,411.3 1296.1,408.9 1309.5,406.9 1331.0,404.3 1353.4,402.3 1375.7,400.7 1405.4,399.1 1442.6,397.6 1479.8,396.5 1516.9,395.6 1554.1,394.7 1591.3,394.0 1631.4,393.2" fill="none" stroke="#800080" stroke-width="2.0" stroke-linejoin="round"/>
<polyline points="1256.7,434.8 1269.3,424.4 1282.7,421.2 1296.1,418.5 1309.5,416.2 1331.0,413.2 1353.4,410.7 1375.7,408.8 1405.4,406.7 1442.6,404.8 1479.8,403.3 1516.9,402.1 1554.1,401.0 1591.3,400.1 1631.4,399.1" fill="none" stroke="#800080" stroke-width="2.0" stroke-linejoin="round"/>
<polyline points="1256.7,434.8 1269.3,430.6 1282.7,428.0 1296.1,425.7 1309.5,423.6 1331.0,420.7 1353.4,418.3 1375.7,416.3 1405.4,414.0 1442.6,411.9 1479.8,410.2 1516.9,408.8 1554.1,407.6 1591.3,406.5 1631.4,405.5" fill="none" stroke="#800080" stroke-width="2.0" stroke-linejoin="round"/>
<polyline points="1256.7,434.8 1269.3,432.6 1282.7,430.6 1296.1,428.8 1309.5,427.1 1331.0,424.8 1353.4,422.8 1375.7,421.0 1405.4,419.1 1442.6,417.2 1479.8,415.7 1516.9,414.5 1554.1,413.4 1591.3,412.5 1631.4,411.7" fill="none" stroke="#800080" stroke-width="2.0" stroke-linejoin="round"/>
<polyline points="1256.7,434.8 1269.3,433.3 1282.7,431.8 1296.1,430.5 1309.5,429.3 1331.0,427.6 1353.4,426.1 1375.7,424.8 1405.4,423.4 1442.6,421.9 1479.8,420.6 1516.9,419.6 1554.1,418.6 1591.3,417.8 1631.4,417.0" fill="none" stroke="#800080" stroke-width="2.0" stroke-linejoin="round"/>
<line x1="1255.2" y1="0.9" x2="1255.2" y2="146.39999999999998" stroke="#2a2a2a" stroke-width="1.4"/>
<line x1="1254.5" y1="145.7" x2="1644.0" y2="145.7" stroke="#2a2a2a" stroke-width="1.4"/>
<line x1="1255.9" y1="145.7" x2="1255.9" y2="150.1" stroke="#2a2a2a" stroke-width="1.2"/>
<line x1="1293.2" y1="145.7" x2="1293.2" y2="148.5" stroke="#2a2a2a" stroke-width="1.2"/>
<line x1="1330.4" y1="145.7" x2="1330.4" y2="150.1" stroke="#2a2a2a" stroke-width="1.2"/>
<line x1="1367.7" y1="145.7" x2="1367.7" y2="148.5" stroke="#2a2a2a" stroke-width="1.2"/>
<line x1="1404.9" y1="145.7" x2="1404.9" y2="150.1" stroke="#2a2a2a" stroke-width="1.2"/>
<line x1="1442.2" y1="145.7" x2="1442.2" y2="148.5" stroke="#2a2a2a" stroke-width="1.2"/>
<line x1="1479.4" y1="145.7" x2="1479.4" y2="150.1" stroke="#2a2a2a" stroke-width="1.2"/>
<line x1="1516.7" y1="145.7" x2="1516.7" y2="148.5" stroke="#2a2a2a" stroke-width="1.2"/>
<line x1="1553.9" y1="145.7" x2="1553.9" y2="150.1" stroke="#2a2a2a" stroke-width="1.2"/>
<line x1="1591.2" y1="145.7" x2="1591.2" y2="148.5" stroke="#2a2a2a" stroke-width="1.2"/>
<line x1="1628.4" y1="145.7" x2="1628.4" y2="150.1" stroke="#2a2a2a" stroke-width="1.2"/>
<line x1="1255.2" y1="145.7" x2="1255.2" y2="291.2" stroke="#2a2a2a" stroke-width="1.4"/>
<line x1="1254.5" y1="290.5" x2="1644.0" y2="290.5" stroke="#2a2a2a" stroke-width="1.4"/>
<line x1="1255.7" y1="290.5" x2="1255.7" y2="294.9" stroke="#2a2a2a" stroke-width="1.2"/>
<line x1="1293.0" y1="290.5" x2="1293.0" y2="293.3" stroke="#2a2a2a" stroke-width="1.2"/>
<line x1="1330.2" y1="290.5" x2="1330.2" y2="294.9" stroke="#2a2a2a" stroke-width="1.2"/>
<line x1="1367.5" y1="290.5" x2="1367.5" y2="293.3" stroke="#2a2a2a" stroke-width="1.2"/>
<line x1="1404.8" y1="290.5" x2="1404.8" y2="294.9" stroke="#2a2a2a" stroke-width="1.2"/>
<line x1="1442.1" y1="290.5" x2="1442.1" y2="293.3" stroke="#2a2a2a" stroke-width="1.2"/>
<line x1="1479.4" y1="290.5" x2="1479.4" y2="294.9" stroke="#2a2a2a" stroke-width="1.2"/>
<line x1="1516.6" y1="290.5" x2="1516.6" y2="293.3" stroke="#2a2a2a" stroke-width="1.2"/>
<line x1="1553.9" y1="290.5" x2="1553.9" y2="294.9" stroke="#2a2a2a" stroke-width="1.2"/>
<line x1="1591.2" y1="290.5" x2="1591.2" y2="293.3" stroke="#2a2a2a" stroke-width="1.2"/>
<line x1="1628.5" y1="290.5" x2="1628.5" y2="294.9" stroke="#2a2a2a" stroke-width="1.2"/>
<line x1="1256.5" y1="290.5" x2="1256.5" y2="435.9" stroke="#2a2a2a" stroke-width="1.4"/>
<line x1="1255.8" y1="435.2" x2="1644.0" y2="435.2" stroke="#2a2a2a" stroke-width="1.4"/>
<line x1="1256.7" y1="435.2" x2="1256.7" y2="439.59999999999997" stroke="#2a2a2a" stroke-width="1.2"/>
<line x1="1293.9" y1="435.2" x2="1293.9" y2="438.0" stroke="#2a2a2a" stroke-width="1.2"/>
<line x1="1331.0" y1="435.2" x2="1331.0" y2="439.59999999999997" stroke="#2a2a2a" stroke-width="1.2"/>
<line x1="1368.2" y1="435.2" x2="1368.2" y2="438.0" stroke="#2a2a2a" stroke-width="1.2"/>
<line x1="1405.4" y1="435.2" x2="1405.4" y2="439.59999999999997" stroke="#2a2a2a" stroke-width="1.2"/>
<line x1="1442.6" y1="435.2" x2="1442.6" y2="438.0" stroke="#2a2a2a" stroke-width="1.2"/>
<line x1="1479.8" y1="435.2" x2="1479.8" y2="439.59999999999997" stroke="#2a2a2a" stroke-width="1.2"/>
<line x1="1516.9" y1="435.2" x2="1516.9" y2="438.0" stroke="#2a2a2a" stroke-width="1.2"/>
<line x1="1554.1" y1="435.2" x2="1554.1" y2="439.59999999999997" stroke="#2a2a2a" stroke-width="1.2"/>
<line x1="1591.3" y1="435.2" x2="1591.3" y2="438.0" stroke="#2a2a2a" stroke-width="1.2"/>
<line x1="1628.5" y1="435.2" x2="1628.5" y2="439.59999999999997" stroke="#2a2a2a" stroke-width="1.2"/>
<line x1="1254.5" y1="0.8" x2="1645" y2="0.8" stroke="#808080" stroke-width="1.8"/>
<line x1="1644.0" y1="0" x2="1644.0" y2="436" stroke="#7a7a7a" stroke-width="2"/>
<line x1="1251.0" y1="142.2" x2="1255.2" y2="142.2" stroke="#2a2a2a" stroke-width="1.2"/>
<line x1="1251.0" y1="88.3" x2="1255.2" y2="88.3" stroke="#2a2a2a" stroke-width="1.2"/>
<line x1="1251.0" y1="34.5" x2="1255.2" y2="34.5" stroke="#2a2a2a" stroke-width="1.2"/>
<line x1="1252.6000000000001" y1="115.3" x2="1255.2" y2="115.3" stroke="#2a2a2a" stroke-width="1.2"/>
<line x1="1252.6000000000001" y1="61.4" x2="1255.2" y2="61.4" stroke="#2a2a2a" stroke-width="1.2"/>
<line x1="1252.6000000000001" y1="7.6" x2="1255.2" y2="7.6" stroke="#2a2a2a" stroke-width="1.2"/>
<text x="1247.6" y="148.8" font-size="19.8" text-anchor="end" fill="#000" >0</text>
<text x="1247.6" y="94.9" font-size="19.8" text-anchor="end" fill="#000" >300</text>
<text x="1247.6" y="41.1" font-size="19.8" text-anchor="end" fill="#000" >600</text>
<line x1="1251.0" y1="290.3" x2="1255.2" y2="290.3" stroke="#2a2a2a" stroke-width="1.2"/>
<line x1="1251.0" y1="233.4" x2="1255.2" y2="233.4" stroke="#2a2a2a" stroke-width="1.2"/>
<line x1="1251.0" y1="176.4" x2="1255.2" y2="176.4" stroke="#2a2a2a" stroke-width="1.2"/>
<line x1="1252.6000000000001" y1="261.8" x2="1255.2" y2="261.8" stroke="#2a2a2a" stroke-width="1.2"/>
<line x1="1252.6000000000001" y1="204.9" x2="1255.2" y2="204.9" stroke="#2a2a2a" stroke-width="1.2"/>
<line x1="1252.6000000000001" y1="147.9" x2="1255.2" y2="147.9" stroke="#2a2a2a" stroke-width="1.2"/>
<text x="1247.6" y="296.9" font-size="19.8" text-anchor="end" fill="#000" >0</text>
<text x="1247.6" y="240.0" font-size="19.8" text-anchor="end" fill="#000" >75</text>
<text x="1247.6" y="183.0" font-size="19.8" text-anchor="end" fill="#000" >150</text>
<line x1="1252.3" y1="434.8" x2="1256.5" y2="434.8" stroke="#2a2a2a" stroke-width="1.2"/>
<line x1="1252.3" y1="374.6" x2="1256.5" y2="374.6" stroke="#2a2a2a" stroke-width="1.2"/>
<line x1="1252.3" y1="314.3" x2="1256.5" y2="314.3" stroke="#2a2a2a" stroke-width="1.2"/>
<line x1="1253.9" y1="404.7" x2="1256.5" y2="404.7" stroke="#2a2a2a" stroke-width="1.2"/>
<line x1="1253.9" y1="344.4" x2="1256.5" y2="344.4" stroke="#2a2a2a" stroke-width="1.2"/>
<text x="1247.6" y="441.4" font-size="19.8" text-anchor="end" fill="#000" >0</text>
<text x="1247.6" y="381.2" font-size="19.8" text-anchor="end" fill="#000" >75</text>
<text x="1247.6" y="320.9" font-size="19.8" text-anchor="end" fill="#000" >150</text>
<text x="1256.7" y="466.1" font-size="24" text-anchor="middle" fill="#000" >0</text>
<text x="1331.2" y="466.1" font-size="24" text-anchor="middle" fill="#000" >10</text>
<text x="1405.6" y="466.1" font-size="24" text-anchor="middle" fill="#000" >20</text>
<text x="1480.1" y="466.1" font-size="24" text-anchor="middle" fill="#000" >30</text>
<text x="1554.5" y="466.1" font-size="24" text-anchor="middle" fill="#000" >40</text>
<text x="1629.0" y="466.1" font-size="24" text-anchor="middle" fill="#000" >50</text>
<text x="1388.1" y="503.2" font-size="28" text-anchor="start" fill="#000" textLength="119.5" lengthAdjust="spacingAndGlyphs">H <tspan font-size="30.5" dy="1.82">(</tspan><tspan dy="-1.82">kOe</tspan><tspan font-size="30.5" dy="1.82">)</tspan></text>
<text transform="translate(1200,318.6) rotate(-90)" font-size="28.5" fill="#000"><tspan x="-3.3 21.3 32.0 42.2 59.0 86.5 107.8 119.6 133.8">M (emu/cm</tspan><tspan font-size="18" x="161.7" dy="-14.7">3</tspan><tspan x="175.8" dy="14.7">)</tspan></text>
<text x="1259.5" y="31" font-size="28.5" text-anchor="start" fill="#000" textLength="162.5" lengthAdjust="spacingAndGlyphs"><tspan font-size="31.1" dy="1.85">(</tspan><tspan dy="-1.85">c</tspan><tspan font-size="31.1" dy="1.85">)</tspan><tspan dy="-1.85"> Powder</tspan></text>
<text x="1255.8" y="176.4" font-size="28.5" text-anchor="start" fill="#000" textLength="181.8" lengthAdjust="spacingAndGlyphs"><tspan font-size="31.1" dy="1.85">(</tspan><tspan dy="-1.85">d</tspan><tspan font-size="31.1" dy="1.85">)</tspan><tspan dy="-1.85"> 12 wt.%</tspan></text>
<text x="1260.9" y="329.5" font-size="28.5" text-anchor="start" fill="#000" textLength="162.7" lengthAdjust="spacingAndGlyphs"><tspan font-size="31.1" dy="1.85">(</tspan><tspan dy="-1.85">e</tspan><tspan font-size="31.1" dy="1.85">)</tspan><tspan dy="-1.85"> 2 wt.%</tspan></text>
<text x="1550.8" y="23.4" font-size="24" text-anchor="start" fill="#000" textLength="69.6" lengthAdjust="spacingAndGlyphs" >210 K</text>
<text x="1560.5" y="136.5" font-size="24" text-anchor="start" fill="#000" textLength="70" lengthAdjust="spacingAndGlyphs" >350 K</text>
<line x1="1637.2" y1="23.8" x2="1637.2" y2="102.9" stroke="#000" stroke-width="1.7"/>
<polygon points="1637.2,111.9 1633.8,100.4 1640.6000000000001,100.4" fill="#000"/>
<line x1="1638" y1="177.8" x2="1638" y2="256.9" stroke="#000" stroke-width="1.7"/>
<polygon points="1638,265.9 1634.6,254.39999999999998 1641.4,254.39999999999998" fill="#000"/>
<line x1="1638.6" y1="334.7" x2="1638.6" y2="408.6" stroke="#000" stroke-width="1.7"/>
<polygon points="1638.6,417.6 1635.1999999999998,406.1 1642.0,406.1" fill="#000"/>
</g>
</svg>
</body></html>
